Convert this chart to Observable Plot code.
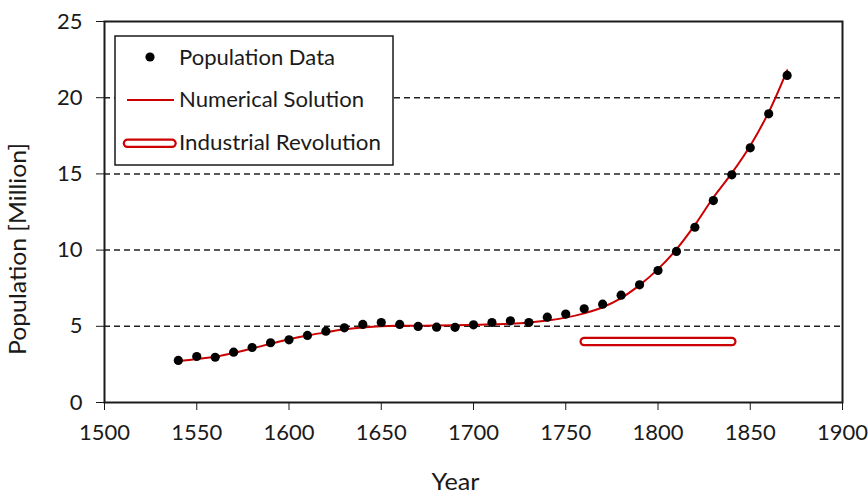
<!DOCTYPE html>
<html>
<head>
<meta charset="utf-8">
<script src="https://cdn.jsdelivr.net/npm/d3@7"></script>
<script src="https://cdn.jsdelivr.net/npm/@observablehq/plot@0.6"></script>
<style>
  body { margin: 0; background: #fff; }
  #chart svg { display: block; }
</style>
</head>
<body>
<div id="chart"></div>
<script>
// ---- Data ----
const dataYears = [1540,1550,1560,1570,1580,1590,1600,1610,1620,1630,1640,1650,1660,1670,1680,1690,1700,1710,1720,1730,1740,1750,1760,1770,1780,1790,1800,1810,1820,1830,1840,1850,1860,1870];
const populationData = [2.76,3.02,2.97,3.30,3.61,3.92,4.11,4.40,4.68,4.90,5.12,5.25,5.12,4.99,4.94,4.93,5.10,5.25,5.36,5.25,5.60,5.80,6.15,6.45,7.04,7.72,8.66,9.91,11.50,13.25,14.94,16.71,18.94,21.46];

const solutionYears = [1540,1550,1560,1570,1580,1590,1600,1610,1620,1630,1640,1650,1660,1670,1680,1690,1700,1710,1720,1730,1740,1750,1760,1770,1780,1790,1800,1810,1820,1830,1840,1850,1860,1870];
const solutionValues = [2.72,2.85,3.00,3.25,3.55,3.85,4.15,4.40,4.60,4.80,4.92,5.00,5.03,5.04,5.05,5.07,5.10,5.13,5.17,5.25,5.38,5.57,5.85,6.25,6.85,7.70,8.75,10.05,11.65,13.45,15.05,16.85,19.05,21.80];

const revolutionYears = [1760, 1840];
const revolutionLevel = [4, 4];

const xTicks = [1500,1550,1600,1650,1700,1750,1800,1850,1900];
const yTicks = [0,5,10,15,20,25];
const gridLevels = [5,10,15,20];

const legendLabels = ["Population Data", "Numerical Solution", "Industrial Revolution"];
const xTitle = "Year";
const yTitle = "Population [Million]";

// ---- Tables built from the arrays ----
const points = dataYears.map((year, i) => ({year, value: populationData[i]}));
const solution = solutionYears.map((year, i) => ({year, value: solutionValues[i]}));
const revolution = revolutionYears.map((year, i) => ({year, value: revolutionLevel[i]}));

const RED = "#cc0000";
const INK = "#1a1a1a";
const FONT = "Lato, 'Open Sans', sans-serif";

const plot = Plot.plot({
  width: 868,
  height: 496,
  marginLeft: 104,
  marginRight: 26,
  marginTop: 21,
  marginBottom: 94,
  style: {fontFamily: FONT, fontSize: "22px", color: INK, background: "white", overflow: "visible"},
  x: {domain: [1500, 1900], ticks: xTicks, tickFormat: d => String(d), tickSize: 8, tickPadding: 14, label: null},
  y: {domain: [0, 25], ticks: yTicks, tickFormat: d => String(d), tickSize: 8, tickPadding: 14, label: null},
  marks: [
    Plot.ruleY(gridLevels, {stroke: "#222", strokeWidth: 1.5, strokeDasharray: "6,4"}),
    Plot.line(solution, {x: "year", y: "value", stroke: RED, strokeWidth: 2, curve: "catmull-rom"}),
    Plot.line(revolution, {x: "year", y: "value", stroke: RED, strokeWidth: 9.5, strokeLinecap: "round"}),
    Plot.line(revolution, {x: "year", y: "value", stroke: "white", strokeWidth: 5, strokeLinecap: "round"}),
    Plot.dot(points, {x: "year", y: "value", r: 4.6, fill: "black", stroke: "none"}),
    Plot.frame({stroke: INK, strokeWidth: 2})
  ]
});

document.getElementById("chart").appendChild(plot);

// ---- Axis titles and legend (layout only) ----
const svg = d3.select(plot);

svg.append("text")
  .attr("x", 455.5).attr("y", 490)
  .attr("text-anchor", "middle")
  .attr("font-family", FONT).attr("font-size", 24).attr("fill", INK)
  .attr("textLength", 48).attr("lengthAdjust", "spacingAndGlyphs")
  .text(xTitle);

svg.append("text")
  .attr("transform", "translate(26,249) rotate(-90)")
  .attr("text-anchor", "middle")
  .attr("font-family", FONT).attr("font-size", 23).attr("fill", INK)
  .attr("textLength", 212).attr("lengthAdjust", "spacingAndGlyphs")
  .text(yTitle);

const lg = svg.append("g").attr("text-anchor", "start");
lg.append("rect")
  .attr("x", 115).attr("y", 36).attr("width", 278).attr("height", 129)
  .attr("fill", "white").attr("stroke", INK).attr("stroke-width", 1.5);

lg.append("circle").attr("cx", 150).attr("cy", 57).attr("r", 4.6).attr("fill", "black");
lg.append("line").attr("x1", 127).attr("x2", 174).attr("y1", 100).attr("y2", 100)
  .attr("stroke", RED).attr("stroke-width", 2);
lg.append("line").attr("x1", 127.5).attr("x2", 172).attr("y1", 143.3).attr("y2", 143.3)
  .attr("stroke", RED).attr("stroke-width", 9.5).attr("stroke-linecap", "round");
lg.append("line").attr("x1", 127.5).attr("x2", 172).attr("y1", 143.3).attr("y2", 143.3)
  .attr("stroke", "white").attr("stroke-width", 5).attr("stroke-linecap", "round");

const legendBaselines = [65, 107, 150];
const legendWidths = [156, 185, 202];
legendLabels.forEach((t, i) => {
  lg.append("text")
    .attr("x", 179).attr("y", legendBaselines[i])
    .attr("text-anchor", "start")
    .attr("font-family", FONT).attr("font-size", 22).attr("fill", INK)
    .attr("textLength", legendWidths[i]).attr("lengthAdjust", "spacingAndGlyphs")
    .text(t);
});
</script>
</body>
</html>
